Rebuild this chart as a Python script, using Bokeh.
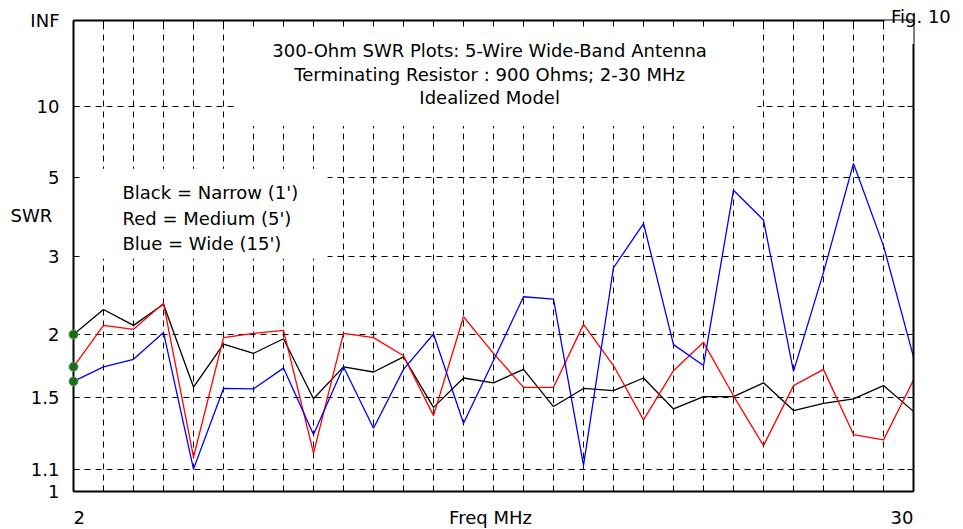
from bokeh.plotting import figure
from bokeh.models import Range1d, FixedTicker, LinearAxis, Label, BoxAnnotation, Grid
from bokeh.core.properties import value
from bokeh.embed import file_html
from bokeh.resources import INLINE

# ---------------- data ----------------
freq = list(range(2, 31))  # MHz

swr_black = [2.00, 2.26, 2.09, 2.32, 1.57, 1.91, 1.83, 1.96, 1.49, 1.72,
             1.68, 1.80, 1.435, 1.635, 1.60, 1.70, 1.44, 1.56, 1.545, 1.635,
             1.425, 1.505, 1.505, 1.60, 1.415, 1.46, 1.49, 1.58, 1.41]
swr_red = [1.72, 2.09, 2.05, 2.33, 1.157, 1.97, 2.01, 2.04, 1.177, 2.01,
           1.97, 1.81, 1.384, 2.18, 1.83, 1.568, 1.568, 2.10, 1.73, 1.359,
           1.69, 1.927, 1.51, 1.216, 1.58, 1.70, 1.275, 1.246, 1.62]
swr_blue = [1.61, 1.72, 1.78, 2.02, 1.10, 1.56, 1.557, 1.71, 1.275, 1.72,
            1.31, 1.70, 2.005, 1.339, 1.77, 2.41, 2.38, 1.117, 2.81, 3.64,
            1.906, 1.73, 4.55, 3.72, 1.685, 2.74, 5.59, 3.18, 1.80]

y_tick_swr = [1, 1.1, 1.5, 2, 3, 5, 10, float("inf")]
y_tick_labels = ["1", "1.1", "1.5", "2", "3", "5", "10", "INF"]
grid_swr = [1.1, 1.5, 2, 3, 5, 10]

title_lines = ["300-Ohm SWR Plots: 5-Wire Wide-Band Antenna",
               "Terminating Resistor : 900 Ohms; 2-30 MHz",
               "Idealized Model"]
legend_lines = ["Black = Narrow (1')", "Red = Medium (5')", "Blue = Wide (15')"]
x_title = "Freq MHz"
y_title = "SWR"
fig_label = "Fig. 10"

FONT = "DejaVu Sans"
FS = "18px"


def rho(s):
    """SWR -> reflection coefficient (the chart's vertical scale)."""
    if s == float("inf"):
        return 1.0
    return (s - 1.0) / (s + 1.0)


# ---------------- figure ----------------
p = figure(width=963, height=529, x_range=Range1d(2, 30), y_range=Range1d(0, 1),
           output_backend="svg", toolbar_location=None,
           x_axis_location=None, y_axis_location=None,
           min_border_left=73, min_border_right=50, min_border_top=20, min_border_bottom=38,
           background_fill_color="white", border_fill_color="white")
p.outline_line_color = None
p.xgrid.visible = False
p.ygrid.visible = False

y_ticks = [rho(s) for s in y_tick_swr]
x_grid_ticks = freq[1:-1]

# grids
dash = "6 5"
p.add_layout(Grid(dimension=0, ticker=FixedTicker(ticks=x_grid_ticks),
                  grid_line_color="black", grid_line_dash=dash, grid_line_width=1))
p.add_layout(Grid(dimension=1, ticker=FixedTicker(ticks=[rho(s) for s in grid_swr]),
                  grid_line_color="black", grid_line_dash=dash, grid_line_width=1))


def make_axis(ticks, labels=None):
    ax = LinearAxis(ticker=FixedTicker(ticks=ticks))
    ax.major_tick_in = 6
    ax.major_tick_out = 0
    ax.minor_tick_line_color = None
    ax.axis_line_width = 2
    ax.axis_line_color = "black"
    ax.major_tick_line_color = "black"
    if labels is None:
        ax.major_label_overrides = {t: "" for t in ticks}
    else:
        ax.major_label_overrides = dict(zip(ticks, labels))
    ax.major_label_text_font = FONT
    ax.major_label_text_font_size = FS
    ax.major_label_text_font_style = "normal"
    ax.major_label_text_color = "black"
    return ax


left_ax = make_axis(y_ticks, y_tick_labels)
left_ax.major_label_standoff = 14
p.add_layout(left_ax, "left")
p.add_layout(make_axis(y_ticks), "right")
p.add_layout(make_axis(freq), "below")
p.add_layout(make_axis(freq), "above")

# white boxes behind the title and legend texts (they hide the grid)
p.quad(left=[7.47], right=[24.8], bottom=[0.776], top=[1.0],
       fill_color="white", line_color=None)
p.quad(left=[2.07], right=[10.47], bottom=[0.494], top=[0.685],
       fill_color="white", line_color=None)

# data
p.line(freq, [rho(s) for s in swr_black], line_color="black", line_width=1.3)
p.line(freq, [rho(s) for s in swr_red], line_color="#ff0000", line_width=1.3)
p.line(freq, [rho(s) for s in swr_blue], line_color="#0000ff", line_width=1.3)

start_vals = [swr_black[0], swr_red[0], swr_blue[0]]
p.scatter([freq[0]] * 3, [rho(s) for s in start_vals], size=9,
          fill_color="#137313", line_color="#6a8f6a", line_width=1, level="overlay")

# title text
title_y = [0.9353, 0.8844, 0.8356]
for t, y in zip(title_lines, title_y):
    p.add_layout(Label(x=15.87, y=y, text=t, text_align="center", text_baseline="middle",
                       text_font=FONT, text_font_size=FS, text_color="black"))

# legend text
legend_y = [0.634, 0.579, 0.526]
for t, y in zip(legend_lines, legend_y):
    p.add_layout(Label(x=3.633, y=y, text=t, text_align="left", text_baseline="middle",
                       text_font=FONT, text_font_size=FS, text_color="black"))

# corner cut for the figure number
p.add_layout(BoxAnnotation(left=29.03, right=31.9, bottom=0.950, top=1.2,
                           fill_color="white", fill_alpha=1.0, line_color=None))

# texts that lie outside the frame (overlay level is not clipped)
x_lab_y = -0.0551
p.text(x=[freq[0]], y=[x_lab_y], text=[str(freq[0])], text_align="left",
       text_baseline="middle", text_font=value(FONT), text_font_size=value(FS),
       text_color="black", level="overlay")
p.text(x=[freq[-1]], y=[x_lab_y], text=[str(freq[-1])], text_align="right",
       text_baseline="middle", text_font=value(FONT), text_font_size=value(FS),
       text_color="black", level="overlay")
p.text(x=[15.9], y=[x_lab_y], text=[x_title], text_align="center",
       text_baseline="middle", text_font=value(FONT), text_font_size=value(FS),
       text_color="black", level="overlay")
p.text(x=[-0.1], y=[0.585], text=[y_title], text_align="left",
       text_baseline="middle", text_font=value(FONT), text_font_size=value(FS),
       text_color="black", level="overlay")
p.text(x=[29.25], y=[1.0095], text=[fig_label], text_align="left",
       text_baseline="middle", text_font=value(FONT), text_font_size=value(FS),
       text_color="black", level="overlay")

open("out.html", "w").write(file_html(p, INLINE))
